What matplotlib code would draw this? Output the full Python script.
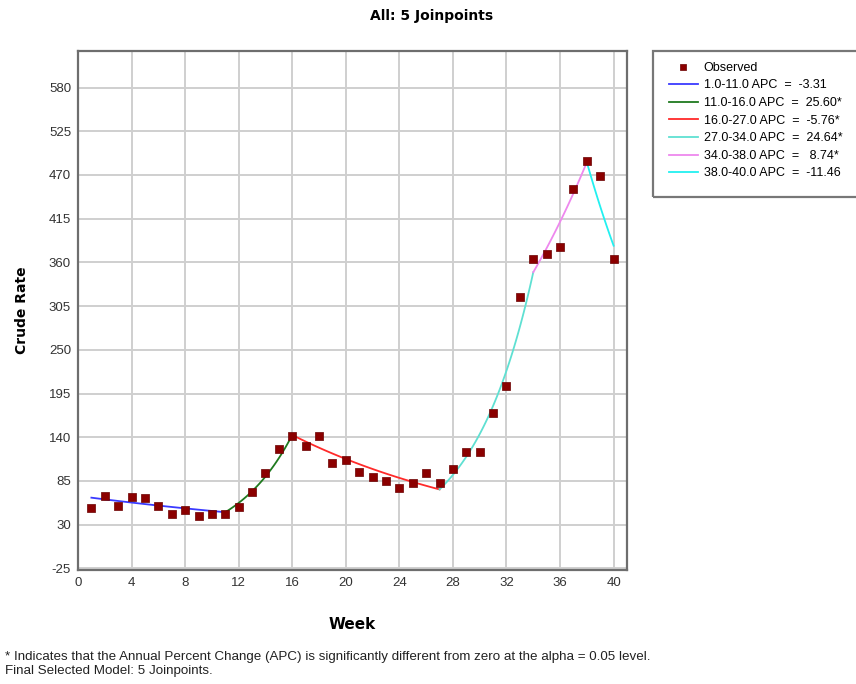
import numpy as np
import matplotlib
matplotlib.use("Agg")
import matplotlib.pyplot as plt
from matplotlib.patches import Rectangle

# Observed crude rate by week
weeks = list(range(1, 41))
observed = [50.5, 65.6, 53, 64.3, 63, 54, 44, 48, 40.4, 44,
            44, 51.7, 70.6, 94.5, 124.7, 142, 128.5, 141, 108, 112,
            95.8, 89.5, 84.4, 75.6, 83, 94.5, 82, 99.5, 121, 122,
            171, 204, 316, 364, 371, 380, 452, 488, 469, 364]

# Joinpoint segments and their annual percent change
joinpoints = [1, 11, 16, 27, 34, 38, 40]
apcs = [-3.31, 25.60, -5.76, 24.64, 8.74, -11.46]
apc_labels = ["-3.31", "25.60*", "-5.76*", "24.64*", " 8.74*", "-11.46"]
seg_colors = ["#3a3aff", "#1f7a1f", "#ff2a2a", "#5fe0d2", "#ee88ee", "#22f0f0"]
fit_start = 64.0

plt.rcParams["font.family"] = ["Liberation Sans Narrow", "Liberation Sans", "DejaVu Sans"]
plt.rcParams["axes.unicode_minus"] = False

fig = plt.figure(figsize=(8.56, 6.84), dpi=100)
ax = fig.add_axes([78 / 856, 114 / 684, 549 / 856, 519 / 684])

ax.grid(True, color="#cfcfcf", linewidth=1.4, zorder=0)
ax.set_axisbelow(True)

ax.scatter(weeks, observed, marker="s", s=30, color="#8b0000",
           edgecolors="#6a0000", linewidths=0.5, zorder=4, label="Observed")

level = fit_start
for i, apc in enumerate(apcs):
    x0, x1 = joinpoints[i], joinpoints[i + 1]
    xs = np.linspace(x0, x1, 60)
    ys = level * (1 + apc / 100) ** (xs - x0)
    label = f"{x0:.1f}-{x1:.1f} APC  =  {apc_labels[i]}"
    ax.plot(xs, ys, color=seg_colors[i], lw=1.3, zorder=3, label=label)
    level = ys[-1]

ax.set_xlim(0, 41)
ax.set_ylim(-27, 626)
ax.set_xticks(range(0, 41, 4))
ax.set_yticks(range(-25, 581, 55))
ax.tick_params(length=0, pad=5, labelsize=9.5, labelcolor="#333333")
for s in ax.spines.values():
    s.set_color("#6e6e6e")
    s.set_linewidth(1.6)

ax.set_xlabel("Week", fontsize=11, fontweight="bold", family="DejaVu Sans",
              labelpad=20)
ax.set_ylabel("Crude Rate", fontsize=10, fontweight="bold", family="DejaVu Sans",
              labelpad=14)

fig.text(432 / 856, 1 - 16 / 684, "All: 5 Joinpoints", ha="center", va="center",
         fontsize=10, fontweight="bold", family="DejaVu Sans")

# legend box runs off the right edge
fig.patches.append(Rectangle((653 / 856, 1 - 197 / 684), 210 / 856, 146 / 684,
                             transform=fig.transFigure, fill=False,
                             edgecolor="#777777", linewidth=1.6))
handles, labels = ax.get_legend_handles_labels()
fig.legend(handles, labels, loc="upper left",
           bbox_to_anchor=(660 / 856, 1 - 53 / 684), frameon=False,
           fontsize=9, handlelength=2.3, handletextpad=0.5,
           labelspacing=0.45, borderpad=0.2, markerscale=0.8)

fig.text(5 / 856, 1 - 657 / 684,
         "* Indicates that the Annual Percent Change (APC) is significantly different "
         "from zero at the alpha = 0.05 level.",
         fontsize=9.6, va="center", color="#222222")
fig.text(5 / 856, 1 - 671 / 684, "Final Selected Model: 5 Joinpoints.",
         fontsize=9.6, va="center", color="#222222")

fig.savefig("out.png", dpi=100)
